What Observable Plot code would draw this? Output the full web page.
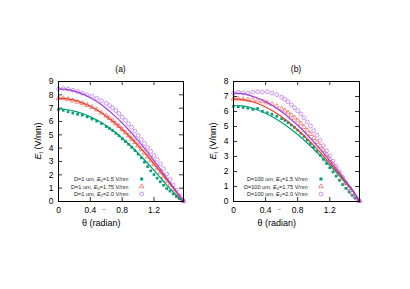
<!DOCTYPE html>
<html><head><meta charset="utf-8">
<script src="https://cdn.jsdelivr.net/npm/d3@7"></script>
<script src="https://cdn.jsdelivr.net/npm/@observablehq/plot@0.6"></script>
<style>
body{margin:0;background:#fff;}
#wrap{position:relative;width:410px;height:289px;overflow:hidden;background:#fff;}
#wrap svg{position:absolute;top:0;}
</style></head><body><div id="wrap"></div>
<script>
// shared angle grids (radian)
const theta = [0,0.06,0.12,0.18,0.24,0.30,0.36,0.42,0.48,0.54,0.60,0.64,0.68,0.72,0.76,0.80,0.84,0.88,0.92,0.96,1.00,1.04,1.08,1.12,1.16,1.20,1.24,1.28,1.32,1.36,1.40,1.44,1.48,1.52,1.56,1.57];
const thetaLine = [0,0.1,0.2,0.3,0.4,0.5,0.6,0.7,0.8,0.9,1.0,1.1,1.2,1.3,1.4,1.5,1.5708];

// panel (a): D = 1 um
const aGreenPts = [6.90,6.84,6.74,6.63,6.54,6.48,6.35,6.18,6.03,5.85,5.62,5.48,5.32,5.12,4.93,4.70,4.50,4.29,4.06,3.82,3.55,3.27,2.95,2.62,2.30,2.02,1.75,1.48,1.22,0.97,0.78,0.57,0.38,0.21,0.06,0.03];
const aRedPts   = [7.75,7.74,7.67,7.57,7.47,7.36,7.23,7.07,6.89,6.66,6.42,6.25,6.05,5.85,5.64,5.40,5.18,4.94,4.69,4.44,4.18,3.92,3.64,3.36,3.08,2.78,2.48,2.17,1.86,1.55,1.25,0.93,0.63,0.34,0.09,0.04];
const aPurplePts= [8.45,8.47,8.42,8.34,8.24,8.12,8.01,7.89,7.75,7.56,7.36,7.20,7.02,6.82,6.60,6.33,6.09,5.83,5.57,5.28,4.95,4.65,4.35,4.05,3.76,3.45,3.15,2.83,2.47,2.05,1.65,1.25,0.85,0.45,0.10,0.05];
const aGreenLine = [6.95,6.90,6.78,6.60,6.35,6.05,5.68,5.25,4.76,4.22,3.63,3.00,2.33,1.65,0.97,0.35,0];
const aRedLine   = [7.75,7.71,7.60,7.40,7.14,6.80,6.40,5.93,5.40,4.82,4.19,3.53,2.81,2.07,1.32,0.55,0];
const aPurpleLine= [8.45,8.41,8.28,8.07,7.78,7.42,6.97,6.46,5.89,5.25,4.57,3.85,3.06,2.26,1.43,0.60,0];

// panel (b): D = 100 um
const bGreenPts = [6.35,6.32,6.27,6.22,6.14,6.20,6.01,5.92,5.82,5.68,5.52,5.41,5.26,5.10,4.94,4.75,4.55,4.33,4.10,3.86,3.62,3.35,3.08,2.81,2.53,2.25,1.97,1.69,1.41,1.13,0.88,0.64,0.41,0.22,0.06,0.03];
const bRedPts   = [6.84,6.85,6.81,6.78,6.77,6.72,6.67,6.59,6.50,6.35,6.18,6.05,5.92,5.75,5.58,5.40,5.18,4.96,4.73,4.49,4.22,3.95,3.68,3.40,3.11,2.82,2.50,2.18,1.86,1.52,1.20,0.88,0.57,0.30,0.08,0.04];
const bPurplePts= [7.22,7.28,7.24,7.22,7.29,7.32,7.30,7.32,7.22,7.12,6.95,6.82,6.65,6.45,6.25,6.05,5.83,5.58,5.30,5.02,4.72,4.42,4.08,3.72,3.38,3.05,2.70,2.36,1.98,1.62,1.25,0.90,0.58,0.30,0.08,0.04];
const bGreenLine = [6.40,6.37,6.27,6.10,5.88,5.60,5.27,4.89,4.47,4.00,3.50,2.97,2.41,1.83,1.23,0.60,0];
const bRedLine   = [6.84,6.81,6.70,6.53,6.30,6.00,5.65,5.24,4.78,4.28,3.74,3.16,2.55,1.92,1.28,0.62,0];
const bPurpleLine= [7.22,7.19,7.08,6.90,6.66,6.35,5.98,5.55,5.08,4.55,3.98,3.37,2.72,2.05,1.36,0.65,0];

const xTicks = [0,0.4,0.8,1.2];
const aYTicks = [0,1,2,3,4,5,6,7,8,9];
const bYTicks = [0,1,2,3,4,5,6,7,8];
const aLegend = [["D=1 um, ","=1.5 V/nm"],["D=1 um, ","=1.75 V/nm"],["D=1 um, ","=2.0 V/nm"]];
const bLegend = [["D=100 um, ","=1.5 V/nm"],["D=100 um, ","=1.75 V/nm"],["D=100 um, ","=2.0 V/nm"]];

const FONT = '"Liberation Sans", Arial, sans-serif';
const GREEN = "#009e73", RED = "#e8402e", PURPLE = "#a23ddc";
const RED_PT = "#f0584c", PURPLE_PT = "#b468e6";

function rows(xs, ys){ return xs.map((t,i)=>({t, v: ys[i]})); }

function panel(o){
  const W = 205, H = 289, mt = 81, mb = 88;
  const fh = H - mt - mb;
  const fw = W - o.ml - o.mr;
  const plot = Plot.plot({
    width: W, height: H,
    marginTop: mt, marginBottom: mb, marginLeft: o.ml, marginRight: o.mr,
    x: {domain: [0, Math.PI/2]},
    y: {domain: [0, o.ymax]},
    style: {fontFamily: FONT, fontSize: "8.5px", background: "transparent", color: "#000", overflow: "visible"},
    marks: [
      Plot.axisX(xTicks, {tickSize: 0, tickPadding: 5, label: null, fontSize: 8.5, tickFormat: d => d === 0 ? "0" : d.toFixed(1)}),
      Plot.axisY(o.yTicks, {tickSize: 0, tickPadding: 5, label: null, fontSize: 8.5}),
      Plot.tickX(xTicks.slice(1), {x: d => d, insetTop: fh - 4, stroke: "#000", strokeWidth: 0.8}),
      Plot.tickX(xTicks.slice(1), {x: d => d, insetBottom: fh - 4, stroke: "#000", strokeWidth: 0.8}),
      Plot.tickY(o.yTicks.slice(1, -1), {y: d => d, insetRight: fw - 4, stroke: "#000", strokeWidth: 0.8}),
      Plot.tickY(o.yTicks.slice(1, -1), {y: d => d, insetLeft: fw - 4, stroke: "#000", strokeWidth: 0.8}),
      Plot.dot(rows(theta, o.g), {x: "t", y: "v", symbol: "square", r: 1.5, fill: GREEN, stroke: "none"}),
      Plot.dot(rows(theta, o.r), {x: "t", y: "v", symbol: "triangle", r: 1.7, fill: "none", stroke: RED_PT, strokeWidth: 0.7}),
      Plot.dot(rows(theta, o.p), {x: "t", y: "v", symbol: "circle", r: 1.9, fill: "none", stroke: PURPLE_PT, strokeWidth: 0.7}),
      Plot.line(rows(thetaLine, o.gl), {x: "t", y: "v", stroke: GREEN, strokeWidth: 1.2, curve: "monotone-x"}),
      Plot.line(rows(thetaLine, o.rl), {x: "t", y: "v", stroke: RED, strokeWidth: 1.2, curve: "monotone-x"}),
      Plot.line(rows(thetaLine, o.pl), {x: "t", y: "v", stroke: PURPLE, strokeWidth: 1.2, curve: "monotone-x"}),
      Plot.frame({stroke: "#000", strokeWidth: 1})
    ]
  });
  plot.style.left = o.left + "px";
  const svg = d3.select(plot);
  const cx = o.ml + fw / 2;
  // title
  svg.append("text").attr("x", cx).attr("y", 72).attr("text-anchor", "middle")
    .attr("font-family", FONT).attr("font-size", 8.5).text(o.title);
  // y label
  const yl = svg.append("text").attr("transform", `translate(${o.ylx},141) rotate(-90)`)
    .attr("text-anchor", "middle").attr("font-family", FONT).attr("font-size", 9);
  yl.append("tspan").attr("font-style", "italic").text("E");
  yl.append("tspan").attr("font-size", 6).attr("dy", 2).text("l");
  yl.append("tspan").attr("dy", -2).text(" (V/nm)");
  // x label with tilde above theta
  svg.append("text").attr("x", o.xlx).attr("y", 226).attr("font-family", FONT).attr("font-size", 9).text("θ (radian)");
  svg.append("text").attr("x", o.xlx + 2.6).attr("y", 211).attr("text-anchor", "middle")
    .attr("font-family", FONT).attr("font-size", 6).attr("fill", "#666").text("~");
  // legend
  const ly = [179, 186.5, 194];
  o.legend.forEach((lab, i) => {
    const t = svg.append("text").attr("x", o.legX).attr("y", ly[i] + 2).attr("text-anchor", "end")
      .attr("font-family", FONT).attr("font-size", 5.6).attr("fill", "#222");
    t.append("tspan").text(lab[0]);
    t.append("tspan").attr("font-style", "italic").text("E");
    t.append("tspan").attr("font-size", 4).attr("dy", 1.2).text("0");
    t.append("tspan").attr("dy", -1.2).text(lab[1]);
  });
  const sx = o.symX;
  svg.append("rect").attr("x", sx - 1.5).attr("y", ly[0] - 1.5).attr("width", 3).attr("height", 3).attr("fill", GREEN);
  svg.append("path").attr("d", d3.symbol(d3.symbolTriangle, 9)()).attr("transform", `translate(${sx},${ly[1]})`)
    .attr("fill", "none").attr("stroke", RED_PT).attr("stroke-width", 0.7);
  svg.append("circle").attr("cx", sx).attr("cy", ly[2]).attr("r", 1.9).attr("fill", "none").attr("stroke", PURPLE_PT).attr("stroke-width", 0.7);
  document.getElementById("wrap").appendChild(plot);
}

panel({left: 0, ml: 58, mr: 22, ymax: 9, yTicks: aYTicks, title: "(a)",
  g: aGreenPts, r: aRedPts, p: aPurplePts, gl: aGreenLine, rl: aRedLine, pl: aPurpleLine,
  legend: aLegend, legX: 128.5, symX: 141.7, ylx: 41, xlx: 101.2});
panel({left: 205, ml: 28, mr: 51, ymax: 8, yTicks: bYTicks, title: "(b)",
  g: bGreenPts, r: bRedPts, p: bPurplePts, gl: bGreenLine, rl: bRedLine, pl: bPurpleLine,
  legend: bLegend, legX: 102.7, symX: 116, ylx: 11, xlx: 71.7});
</script></body></html>
